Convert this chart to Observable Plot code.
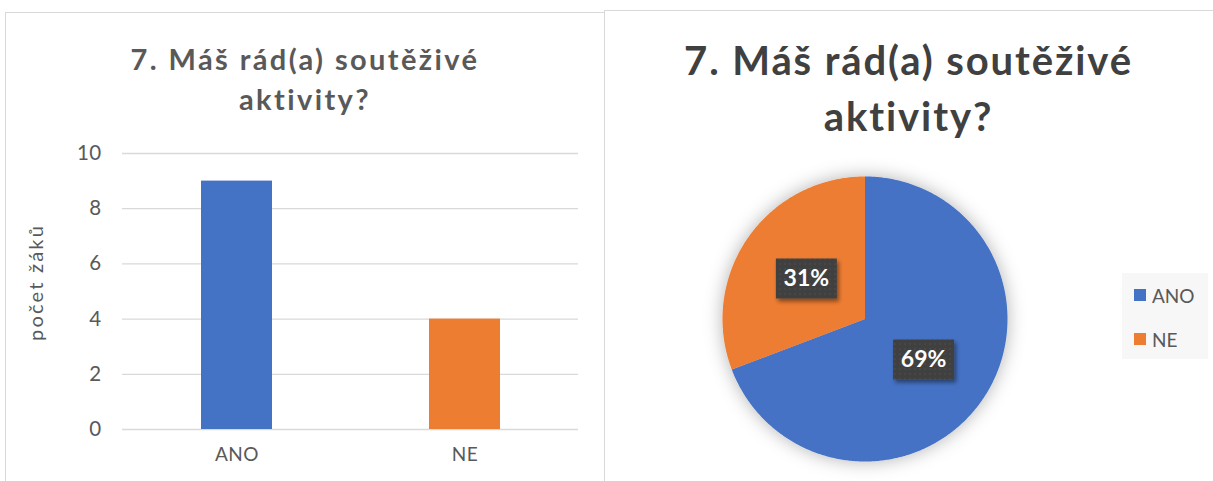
<!DOCTYPE html>
<html><head><meta charset="utf-8">
<script src="https://cdn.jsdelivr.net/npm/d3@7"></script>
<script src="https://cdn.jsdelivr.net/npm/@observablehq/plot@0.6"></script>
<style>
html,body{margin:0;padding:0;background:#fff;}
body{width:1213px;height:481px;overflow:hidden;position:relative;font-family:Lato,"Noto Sans",sans-serif;}
.panel{position:absolute;box-sizing:border-box;border:1px solid #d9d9d9;background:#fff;}
.title{position:absolute;text-align:center;font-weight:bold;white-space:nowrap;}
.abs{position:absolute;}
#legendBox{position:absolute;left:1122px;top:273px;width:86px;height:86px;background:#f7f7f7;}
#legendBox .lg-swatch{height:44px;display:flex;align-items:center;padding:0 0 0 12px !important;margin:0;font-size:19px;color:#595959;}
#legendBox .lg-swatch > svg{margin-right:6px !important;}
#bar svg text{letter-spacing:0.4px;}
#bar [aria-label="y-axis tick label"] text{font-size:20.5px !important;}
#bar [aria-label="y-axis label"] text{font-size:20px !important;letter-spacing:2.2px;}
#bar [aria-label="y-axis label"]{translate:0 -9px;}
#pie svg{overflow:visible !important;}
</style></head><body>
<div class="panel" style="left:5px;top:12px;width:601px;height:480px;"></div>
<div class="panel" style="left:604px;top:10px;width:620px;height:480px;"></div>
<div class="title" id="t1" style="left:5px;width:600px;top:39px;font-size:29px;line-height:40px;letter-spacing:2.4px;color:#595959;"></div>
<div class="title" id="t2" style="left:604px;width:609px;top:32px;font-size:40px;line-height:56px;letter-spacing:1.9px;color:#404040;"></div>
<div class="abs" id="bar" style="left:0;top:130px;"></div>
<div class="abs" id="pie" style="left:721.5px;top:176px;"></div>
<div id="legendBox"></div>
<script>
const categories = ["ANO", "NE"];
const counts = [9, 4];
const colors = ["#4472C4", "#ED7D31"];
const yTicks = [0, 2, 4, 6, 8, 10];
const titleLines = ["7. Máš rád(a) soutěživé", "aktivity?"];
const yLabel = "počet žáků";

const data = categories.map((c, i) => ({category: c, count: counts[i]}));

for (const id of ["t1", "t2"]) {
  const el = document.getElementById(id);
  titleLines.forEach((t, i) => { if (i) el.appendChild(document.createElement("br")); el.appendChild(document.createTextNode(t)); });
}

// Bar chart
const barPlot = Plot.plot({
  width: 605, height: 351,
  marginLeft: 122, marginRight: 27, marginTop: 23, marginBottom: 52,
  style: {fontFamily: "Lato, sans-serif", fontSize: "19px", color: "#595959", background: "transparent", overflow: "visible"},
  x: {domain: categories, paddingInner: 0.69, paddingOuter: 0.345},
  y: {domain: [0, 10]},
  color: {domain: categories, range: colors},
  marks: [
    Plot.gridY(yTicks, {stroke: "#d9d9d9", strokeOpacity: 1, strokeWidth: 1.3}),
    Plot.barY(data, {x: "category", y: "count", fill: "category"}),
    Plot.axisY({ticks: yTicks, tickSize: 0, tickPadding: 21, fontSize: 19, label: yLabel, labelAnchor: "center", labelArrow: "none", labelOffset: 94, fill: "#595959"}),
    Plot.axisX({tickSize: 0, tickPadding: 18, fontSize: 19, label: null, fill: "#595959"})
  ]
});
document.getElementById("bar").appendChild(barPlot);

// Pie chart
const arcs = d3.pie().sort(null).value(d => d.count)(data);
const slices = arcs.map(a => {
  const ring = [[0, 0]];
  const n = Math.max(2, Math.ceil((a.endAngle - a.startAngle) / 0.01));
  for (let k = 0; k <= n; k++) {
    const t = a.startAngle + (a.endAngle - a.startAngle) * k / n;
    ring.push([Math.sin(t), -Math.cos(t)]);
  }
  ring.push([0, 0]);
  return {type: "Feature", properties: {category: a.data.category}, geometry: {type: "Polygon", coordinates: [ring]}};
});
const total = d3.sum(counts);
const fmt = d3.format(".0%");
const labels = arcs.map(a => {
  const m = (a.startAngle + a.endAngle) / 2;
  return {x: 0.5 * Math.sin(m), y: -0.5 * Math.cos(m), text: fmt(a.data.count / total)};
});
const R = 142.5;
const hw = 30.5 / R, hh = 20 / R;
const boxes = labels.map(l => ({type: "Feature", properties: {}, geometry: {type: "Polygon", coordinates: [[
  [l.x - hw, l.y - hh], [l.x + hw, l.y - hh], [l.x + hw, l.y + hh], [l.x - hw, l.y + hh], [l.x - hw, l.y - hh]
]]}}));
const domain = {type: "Polygon", coordinates: [[[-1, -1], [1, -1], [1, 1], [-1, 1], [-1, -1]]]};

const piePlot = Plot.plot({
  width: 2 * R, height: 2 * R,
  margin: 0,
  style: {fontFamily: "Lato, sans-serif", background: "transparent", overflow: "visible"},
  projection: {type: "identity", domain},
  color: {domain: categories, range: colors},
  marks: [
    Plot.geo(slices, {fill: d => d.properties.category}),
    Plot.geo(boxes, {fill: "url(#dots)"}),
    Plot.text(labels, {x: "x", y: "y", text: "text", fill: "white", fontWeight: "bold", fontSize: 23})
  ]
});
const ns = "http://www.w3.org/2000/svg";
const defs = document.createElementNS(ns, "defs");
defs.innerHTML =
  '<pattern id="dots" width="5" height="5" patternUnits="userSpaceOnUse"><rect width="5" height="5" fill="#404040"/><circle cx="2.5" cy="2.5" r="0.8" fill="#555"/></pattern>' +
  '<filter id="glow" x="-40%" y="-40%" width="180%" height="180%"><feDropShadow dx="0" dy="0" stdDeviation="9" flood-color="#000" flood-opacity="0.3"/></filter>' +
  '<filter id="boxshadow" x="-30%" y="-30%" width="170%" height="170%"><feDropShadow dx="2" dy="3" stdDeviation="2" flood-color="#000" flood-opacity="0.45"/></filter>';
piePlot.insertBefore(defs, piePlot.firstChild);
const groups = Array.from(piePlot.children).filter(el => el.tagName.toLowerCase() === "g");
if (groups[0]) groups[0].setAttribute("filter", "url(#glow)");
if (groups[1]) groups[1].setAttribute("filter", "url(#boxshadow)");
document.getElementById("pie").appendChild(piePlot);

// Legend
const legend = Plot.legend({
  color: {domain: categories, range: colors},
  legend: "swatches", columns: 1, swatchSize: 12, className: "lg",
  style: {fontFamily: "Lato, sans-serif", fontSize: "19px", color: "#595959", margin: 0}
});
legend.style.margin = "0";
document.getElementById("legendBox").appendChild(legend);
</script>
</body></html>
